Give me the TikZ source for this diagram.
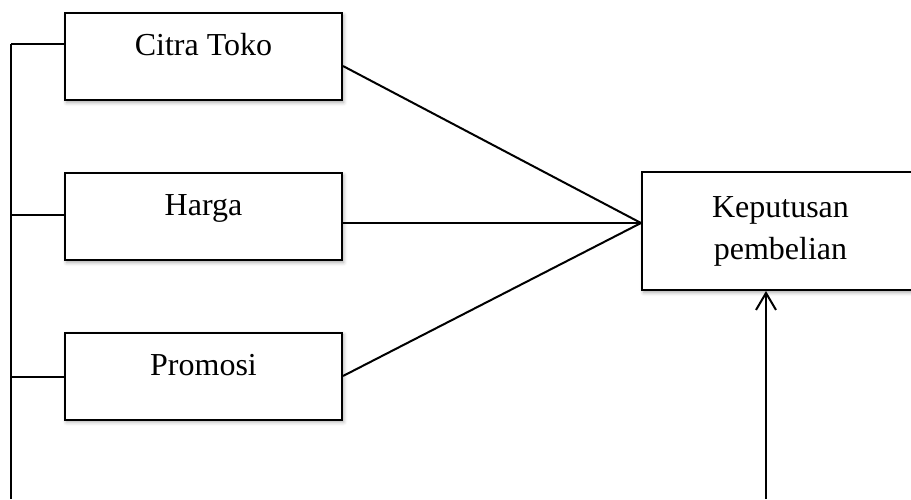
\documentclass[tikz,border=0pt]{standalone}
\usepackage{fontspec}
\setmainfont{Liberation Serif}
\usetikzlibrary{calc,arrows.meta,shadows.blur}

\tikzset{
    box/.style={draw, line width=1pt, fill=white, minimum width=138.5pt,
        minimum height=43.5pt, font=\fontsize{16}{21}\selectfont,
        blur shadow={shadow xshift=0.8pt, shadow yshift=-1.2pt,
            shadow blur steps=4, shadow opacity=35}},
    lbl/.style={text height=11pt, text depth=12pt},
    link/.style={line width=1pt}
}

\begin{document}
\begin{tikzpicture}[x=0.5pt,y=-0.5pt]
            \useasboundingbox (0,0) rectangle (911,499);
            \clip (0,0) rectangle (911,499);

            \node (citra) at (203.5,56.5) [box, lbl] {Citra Toko};
            \node (harga) at (203.5,216.5) [box, lbl] {Harga};
            \node (promosi) at (203.5,376) [box, lbl] {Promosi};
            \node (kep) at (780.5,231) [box, minimum height=59pt, align=center] {Keputusan\\pembelian};

            \coordinate (meet) at (641,223);
            \coordinate (top) at (11,44);
            \coordinate (foot) at (11,499);
            \coordinate (base) at (766,499);

            \draw [link] ($(citra.east) + (0,9.5)$) -- (meet);
            \draw [link] (harga.east |- meet) -- (meet);
            \draw [link] (promosi.east) -- (meet);

            \draw [link] (top) -- (foot);
            \foreach \n/\dy in {citra/-12.5, harga/-1.5, promosi/1}
                {
                    \draw [link] ($(\n.west) + (0,\dy)$) coordinate (t) -- (t -| top);
                }

            \draw [link, -{Straight Barb[length=8.5pt,width=10pt]}] (base) -- (base |- kep.south);

        \end{tikzpicture}
\end{document}
